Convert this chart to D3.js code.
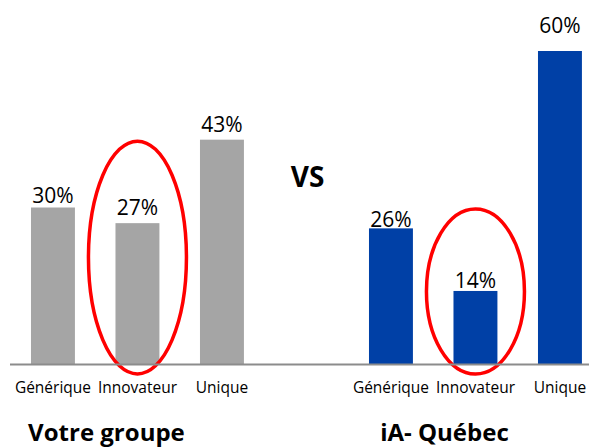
<!DOCTYPE html>
<html>
<head>
<meta charset="utf-8">
<script src="https://cdn.jsdelivr.net/npm/d3@7"></script>
<style>
  body { margin: 0; background: #fff; }
  text { font-family: "Open Sans", sans-serif; fill: #000; }
</style>
</head>
<body>
<div id="svg-area"></div>
<script>
var svgWidth = 589;
var svgHeight = 447;

// data
var groups = ["Votre groupe", "iA- Québec"];
var categories = ["Générique", "Innovateur", "Unique"];
var votreGroupe = [30, 27, 43];
var iaQuebec = [26, 14, 60];
var highlighted = "Innovateur";

var groupValues = [votreGroupe, iaQuebec];
var groupColors = ["#A5A5A5", "#0040A6"];
// small nudges of the value labels above each bar (as in the slide)
var labelLift = [[5, 8, 8], [1, 3, 18]];

var svg = d3.select("#svg-area").append("svg")
  .attr("width", svgWidth)
  .attr("height", svgHeight);

var y = d3.scaleLinear()
  .domain([0, 60])
  .range([364, 51]);

// outer scale for the two groups, inner for the categories
var x0 = d3.scaleBand()
  .domain(groups)
  .range([10.7, 602.2])
  .paddingInner(0.25);

var x1 = d3.scaleBand()
  .domain(categories)
  .range([0, x0.bandwidth()])
  .paddingInner(0.48)
  .paddingOuter(0.24);

groups.forEach(function(g, gi) {
  var rows = categories.map(function(c, i) {
    return {cat: c, value: groupValues[gi][i], lift: labelLift[gi][i]};
  });

  var gGroup = svg.append("g")
    .attr("transform", `translate(${x0(g)}, 0)`);

  gGroup.selectAll("rect")
    .data(rows)
    .enter()
    .append("rect")
    .attr("x", d => x1(d.cat))
    .attr("y", d => y(d.value))
    .attr("width", x1.bandwidth())
    .attr("height", d => y(0) - y(d.value))
    .attr("fill", groupColors[gi]);

  gGroup.selectAll(".value")
    .data(rows)
    .enter()
    .append("text")
    .attr("class", "value")
    .attr("x", d => x1(d.cat) + x1.bandwidth() / 2)
    .attr("y", d => y(d.value) - d.lift)
    .attr("text-anchor", "middle")
    .style("font-size", "21px")
    .text(d => d.value + "%");

  gGroup.selectAll(".cat")
    .data(rows)
    .enter()
    .append("text")
    .attr("class", "cat")
    .attr("x", d => x1(d.cat) + x1.bandwidth() / 2)
    .attr("y", y(0) + 29)
    .attr("text-anchor", "middle")
    .style("font-size", "15.5px")
    .text(d => d.cat);

  // red ellipse round the highlighted bar
  var hv = groupValues[gi][categories.indexOf(highlighted)];
  var top = y(hv) - 82;
  var bottom = y(0) + 10;
  gGroup.append("ellipse")
    .attr("cx", x1(highlighted) + x1.bandwidth() / 2)
    .attr("cy", (top + bottom) / 2)
    .attr("rx", 49)
    .attr("ry", (bottom - top) / 2)
    .attr("fill", "none")
    .attr("stroke", "#FF0000")
    .attr("stroke-width", 3.5);

  gGroup.append("text")
    .attr("x", x0.bandwidth() / 2 - 31)
    .attr("y", 441)
    .attr("text-anchor", "middle")
    .style("font-size", "24px")
    .style("font-weight", "bold")
    .text(g);
});

// baseline
svg.append("line")
  .attr("x1", 10)
  .attr("x2", svgWidth)
  .attr("y1", y(0) + 0.5)
  .attr("y2", y(0) + 0.5)
  .attr("stroke", "#8C8C8C")
  .attr("stroke-width", 2);

svg.append("text")
  .attr("x", 307.5)
  .attr("y", 187)
  .attr("text-anchor", "middle")
  .style("font-size", "28px")
  .style("font-weight", "bold")
  .text("VS");
</script>
</body>
</html>
